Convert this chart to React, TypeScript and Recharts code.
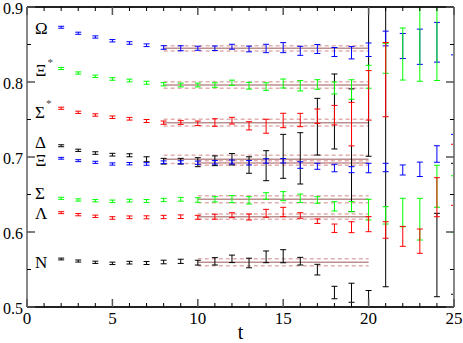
import React from "react";
import {
  ComposedChart,
  Scatter,
  ErrorBar,
  XAxis,
  YAxis,
  ReferenceLine,
  ReferenceDot,
  Label,
} from "recharts";

// time slices
const T = [2, 3, 4, 5, 6, 7, 8, 9, 10, 11, 12, 13, 14, 15, 16, 17, 18, 19, 20, 21, 22, 23, 24, 25];

const OMEGA = [0.873, 0.865, 0.86, 0.855, 0.852, 0.849, 0.846, 0.845, 0.845, 0.845, 0.847, 0.844, 0.8447, 0.8458, 0.8416, 0.844, 0.84, 0.839, 0.843, 0.858, 0.848, 0.847, 0.853, null];
const OMEGA_ERR = [0.0013, 0.0014, 0.0015, 0.0016, 0.0017, 0.0018, 0.0024, 0.0033, 0.0027, 0.003, 0.0033, 0.0038, 0.0056, 0.0067, 0.006, 0.006, 0.006, 0.0082, 0.009, 0.0098, 0.0167, 0.0235, 0.0265, null];

const XISTAR = [0.818, 0.812, 0.8076, 0.804, 0.802, 0.799, 0.797, 0.796, 0.796, 0.796, 0.799, 0.795, 0.794, 0.798, 0.795, 0.7967, 0.792, 0.79, 0.807, 0.8316, 0.8373, 0.855, 0.86, null];
const XISTAR_ERR = [0.0014, 0.0015, 0.0016, 0.0017, 0.0018, 0.002, 0.0022, 0.0025, 0.0025, 0.003, 0.0035, 0.0045, 0.005, 0.006, 0.0069, 0.0064, 0.008, 0.013, 0.0153, 0.02, 0.0347, 0.054, 0.058, null];

const SIGSTAR = [0.765, 0.7596, 0.756, 0.753, 0.751, 0.748, 0.7458, 0.746, 0.7449, 0.746, 0.7484, 0.7416, 0.741, 0.7487, 0.7493, 0.7544, 0.7558, 0.7438, 0.7822, 0.8032, null, null, null, null];
const SIGSTAR_ERR = [0.0014, 0.0015, 0.0016, 0.0017, 0.0018, 0.002, 0.0022, 0.0025, 0.003, 0.005, 0.0045, 0.0055, 0.0093, 0.0096, 0.0089, 0.0096, 0.013, 0.029, 0.033, 0.0495, null, null, null, null];

const DELTA = [0.715, 0.7089, 0.7053, 0.7031, 0.7023, 0.697, 0.6944, 0.6944, 0.6931, 0.695, 0.697, 0.6893, 0.6884, 0.7009, 0.6982, 0.7404, 0.7607, 0.709, 0.81, 0.715, null, null, null, null];
const DELTA_ERR = [0.0013, 0.0015, 0.0017, 0.0018, 0.002, 0.0033, 0.0038, 0.0038, 0.006, 0.0065, 0.0076, 0.011, 0.02, 0.0293, 0.0342, 0.0378, 0.05, 0.0818, 0.109, 0.188, null, null, null, null];

const XI = [0.6983, 0.6951, 0.6929, 0.6907, 0.6911, 0.6907, 0.693, 0.693, 0.6924, 0.693, 0.6933, 0.6924, 0.6947, 0.695, 0.6893, 0.6876, 0.6853, 0.6831, 0.6853, 0.686, 0.6827, 0.6836, 0.704, 0.7832];
const XI_ERR = [0.0012, 0.0013, 0.0014, 0.0015, 0.0016, 0.0017, 0.0018, 0.002, 0.0022, 0.0024, 0.0026, 0.003, 0.003, 0.003, 0.0044, 0.004, 0.005, 0.004, 0.0063, 0.0056, 0.0067, 0.0096, 0.011, 0.053];

const SIGMA = [0.6449, 0.6427, 0.6418, 0.6409, 0.6418, 0.6413, 0.6427, 0.6436, 0.6427, 0.6436, 0.6438, 0.6422, 0.648, 0.6478, 0.645, 0.6427, 0.6342, 0.6338, 0.6298, 0.6222, 0.626, 0.6171, 0.661, 0.6373];
const SIGMA_ERR = [0.0014, 0.0015, 0.0016, 0.0017, 0.0018, 0.002, 0.0022, 0.0025, 0.003, 0.0035, 0.0047, 0.0049, 0.0044, 0.006, 0.0056, 0.0044, 0.0062, 0.0067, 0.0138, 0.0116, 0.019, 0.0278, 0.028, 0.0377];

const LAMBDA = [0.6258, 0.6231, 0.6209, 0.6187, 0.6196, 0.6196, 0.62, 0.6204, 0.6196, 0.6204, 0.6224, 0.62, 0.6249, 0.6267, 0.622, 0.6144, 0.605, 0.6064, 0.6104, 0.6027, 0.5942, 0.5878, 0.6464, 0.6763];
const LAMBDA_ERR = [0.0013, 0.0015, 0.0016, 0.0017, 0.0018, 0.002, 0.0022, 0.0024, 0.0026, 0.0033, 0.0033, 0.004, 0.0053, 0.0062, 0.0037, 0.003, 0.0056, 0.0073, 0.01, 0.011, 0.0133, 0.0162, 0.026, 0.0407];

const NUCLEON = [0.564, 0.5613, 0.5596, 0.5582, 0.5591, 0.5587, 0.56, 0.5609, 0.5591, 0.5609, 0.5642, 0.5587, 0.5669, 0.5677, 0.5611, 0.5498, 0.5193, 0.519, 0.508, null, null, null, 0.5693, 0.6043];
const NUCLEON_ERR = [0.0012, 0.0014, 0.0015, 0.0016, 0.0018, 0.002, 0.0024, 0.0028, 0.0032, 0.0049, 0.005, 0.0064, 0.0078, 0.0087, 0.0051, 0.0071, 0.0083, 0.0127, 0.014, null, null, null, 0.0556, 0.0873];

// plateau fits: [tmin, tmax, mass, error]
const FIT_OMEGA = [8, 20, 0.8449, 0.0036];
const FIT_XISTAR = [8, 20, 0.796, 0.0042];
const FIT_SIGSTAR = [8, 20, 0.7458, 0.0045];
const FIT_DELTA = [8, 20, 0.697, 0.0055];
const FIT_XI = [10, 20, 0.692, 0.003];
const FIT_SIGMA = [10, 20, 0.6436, 0.0047];
const FIT_LAMBDA = [10, 20, 0.6204, 0.0035];
const FIT_NUCLEON = [10, 20, 0.5596, 0.0047];

const X_TICKS = [0, 1, 2, 3, 4, 5, 6, 7, 8, 9, 10, 11, 12, 13, 14, 15, 16, 17, 18, 19, 20, 21, 22, 23, 24, 25];
const Y_TICKS = [0.5, 0.55, 0.6, 0.65, 0.7, 0.75, 0.8, 0.85, 0.9];

const SERIF = "'Liberation Serif', 'Times New Roman', serif";

const mk = (vals: (number | null)[], errs: (number | null)[]) =>
  T.map((t, i) => ({ t, v: vals[i], e: errs[i] })).filter((d) => d.v != null);

// drawing order: black first, then blue, green, red
const SERIES = [
  { key: "delta", data: mk(DELTA, DELTA_ERR), color: "#000000" },
  { key: "n", data: mk(NUCLEON, NUCLEON_ERR), color: "#000000" },
  { key: "omega", data: mk(OMEGA, OMEGA_ERR), color: "#0000ff" },
  { key: "xi", data: mk(XI, XI_ERR), color: "#0000ff" },
  { key: "xistar", data: mk(XISTAR, XISTAR_ERR), color: "#00ff00" },
  { key: "sigma", data: mk(SIGMA, SIGMA_ERR), color: "#00ff00" },
  { key: "sigstar", data: mk(SIGSTAR, SIGSTAR_ERR), color: "#ff0000" },
  { key: "lambda", data: mk(LAMBDA, LAMBDA_ERR), color: "#ff0000" },
];

const FITS = [FIT_OMEGA, FIT_XISTAR, FIT_SIGSTAR, FIT_DELTA, FIT_XI, FIT_SIGMA, FIT_LAMBDA, FIT_NUCLEON];

// particle names, placed in data coordinates
const NAMES = [
  { text: "Ω", star: false, t: 0.47, v: 0.8707 },
  { text: "Ξ", star: true, t: 0.5, v: 0.8147 },
  { text: "Σ", star: true, t: 0.47, v: 0.76 },
  { text: "Δ", star: false, t: 0.47, v: 0.7187 },
  { text: "Ξ", star: false, t: 0.5, v: 0.6947 },
  { text: "Σ", star: false, t: 0.47, v: 0.6507 },
  { text: "Λ", star: false, t: 0.47, v: 0.6253 },
  { text: "N", star: false, t: 0.47, v: 0.5587 },
];

// plot frame (chart layout)
const W = 463;
const H = 343;
const M = { top: 7, right: 9, bottom: 0, left: 0 };
const YAXIS_W = 27;
const XAXIS_H = 36;

const majorX = (v: number) => v % 5 === 0;
const majorY = (v: number) => Math.abs(v * 10 - Math.round(v * 10)) < 1e-6;

function TickBottom(p: any) {
  const v = p.payload.value;
  const major = majorX(v);
  return (
    <g>
      <line x1={p.x} x2={p.x} y1={p.y} y2={p.y - (major ? 8 : 4)} stroke={major ? "#555" : "#000"} strokeWidth={major ? 1.5 : 1} />
      {major && (
        <text x={p.x} y={p.y + 17} textAnchor="middle" fontFamily={SERIF} fontSize={17} fill="#000">
          {v}
        </text>
      )}
    </g>
  );
}

function TickTop(p: any) {
  const major = majorX(p.payload.value);
  return <line x1={p.x} x2={p.x} y1={p.y} y2={p.y + (major ? 8 : 4)} stroke={major ? "#555" : "#000"} strokeWidth={major ? 1.5 : 1} />;
}

function TickLeft(p: any) {
  const v = p.payload.value;
  const major = majorY(v);
  return (
    <g>
      <line x1={p.x} x2={p.x + (major ? 8 : 4)} y1={p.y} y2={p.y} stroke={major ? "#555" : "#000"} strokeWidth={major ? 1.5 : 1} />
      {major && (
        <text x={p.x - 4} y={p.y} dy="0.45em" textAnchor="end" fontFamily={SERIF} fontSize={16} fill="#000">
          {v.toFixed(1)}
        </text>
      )}
    </g>
  );
}

function TickRight(p: any) {
  const major = majorY(p.payload.value);
  return <line x1={p.x} x2={p.x - (major ? 8 : 4)} y1={p.y} y2={p.y} stroke={major ? "#555" : "#000"} strokeWidth={major ? 1.5 : 1} />;
}

export default function App() {
  const px = M.left + YAXIS_W;
  const py = M.top;
  const pw = W - M.right - px;
  const ph = H - M.bottom - XAXIS_H - py;
  return (
    <div style={{ position: "absolute", left: 0, top: 0, background: "#fff" }}>
      <svg width={0} height={0} style={{ position: "absolute" }}>
        <defs>
          <clipPath id="plot-clip" clipPathUnits="userSpaceOnUse">
            <rect x={px} y={py} width={pw} height={ph} />
          </clipPath>
        </defs>
      </svg>
      <style>{`.recharts-errorBars, .recharts-errorBar { clip-path: url(#plot-clip); }`}</style>
      <ComposedChart width={W} height={H} margin={M}>
        <XAxis
          xAxisId="b"
          dataKey="t"
          type="number"
          domain={[0, 25]}
          ticks={X_TICKS}
          interval={0}
          allowDataOverflow
          height={XAXIS_H}
          tickSize={0}
          tickMargin={0}
          tick={TickBottom}
          tickLine={false}
          axisLine={{ stroke: "#222", strokeWidth: 2 }}
        >
          <Label value="t" position="insideBottom" offset={4} style={{ fontFamily: SERIF, fontSize: 20, fill: "#000" }} />
        </XAxis>
        <XAxis
          xAxisId="top"
          orientation="top"
          dataKey="t"
          type="number"
          domain={[0, 25]}
          ticks={X_TICKS}
          interval={0}
          allowDataOverflow
          mirror
          height={20}
          tickSize={0}
          tickMargin={0}
          tick={TickTop}
          tickLine={false}
          axisLine={{ stroke: "#222", strokeWidth: 2 }}
        />
        <YAxis
          yAxisId="l"
          dataKey="v"
          type="number"
          domain={[0.5, 0.9]}
          ticks={Y_TICKS}
          interval={0}
          allowDataOverflow
          width={YAXIS_W}
          tickSize={0}
          tickMargin={0}
          tick={TickLeft}
          tickLine={false}
          axisLine={{ stroke: "#888", strokeWidth: 2 }}
        />
        <YAxis
          yAxisId="r"
          orientation="right"
          dataKey="v"
          type="number"
          domain={[0.5, 0.9]}
          ticks={Y_TICKS}
          interval={0}
          allowDataOverflow
          mirror
          width={20}
          tickSize={0}
          tickMargin={0}
          tick={TickRight}
          tickLine={false}
          axisLine={{ stroke: "#888", strokeWidth: 2 }}
        />

        {/* invisible series so the frame axes on top/right get drawn */}
        <Scatter xAxisId="top" yAxisId="r" data={SERIES[2].data} dataKey="v" isAnimationActive={false} shape={() => <g />} />

        {FITS.map(([t0, t1, m, dm], i) => (
          <ReferenceLine
            key={"fc" + i}
            xAxisId="b"
            yAxisId="l"
            segment={[{ x: t0, y: m }, { x: t1, y: m }]}
            stroke="#bc8f8f"
            strokeWidth={1.5}
          />
        ))}
        {FITS.map(([t0, t1, m, dm], i) => (
          <ReferenceLine
            key={"fu" + i}
            xAxisId="b"
            yAxisId="l"
            segment={[{ x: t0, y: m + dm }, { x: t1, y: m + dm }]}
            stroke="#e2b0b0"
            strokeWidth={1.5}
            strokeDasharray="4 3"
          />
        ))}
        {FITS.map(([t0, t1, m, dm], i) => (
          <ReferenceLine
            key={"fd" + i}
            xAxisId="b"
            yAxisId="l"
            segment={[{ x: t0, y: m - dm }, { x: t1, y: m - dm }]}
            stroke="#e2b0b0"
            strokeWidth={1.5}
            strokeDasharray="4 3"
          />
        ))}

        {SERIES.map((s) => (
          <Scatter
            key={s.key}
            xAxisId="b"
            yAxisId="l"
            data={s.data}
            dataKey="v"
            isAnimationActive={false}
            shape={() => <g />}
          >
            <ErrorBar dataKey="e" direction="y" width={3} stroke={s.color} strokeWidth={1} isAnimationActive={false} />
          </Scatter>
        ))}

        {NAMES.map((n, i) => (
          <ReferenceDot
            key={"n" + i}
            xAxisId="b"
            yAxisId="l"
            x={n.t}
            y={n.v}
            r={0}
            shape={(p: any) => (
              <text x={p.cx} y={p.cy} dominantBaseline="central" fontFamily={SERIF} fontSize={17} fill="#000">
                {n.text}
                {n.star && (
                  <tspan dx={1} dy={-9} fontSize={11} fill="#444">
                    *
                  </tspan>
                )}
              </text>
            )}
          />
        ))}
      </ComposedChart>
    </div>
  );
}
